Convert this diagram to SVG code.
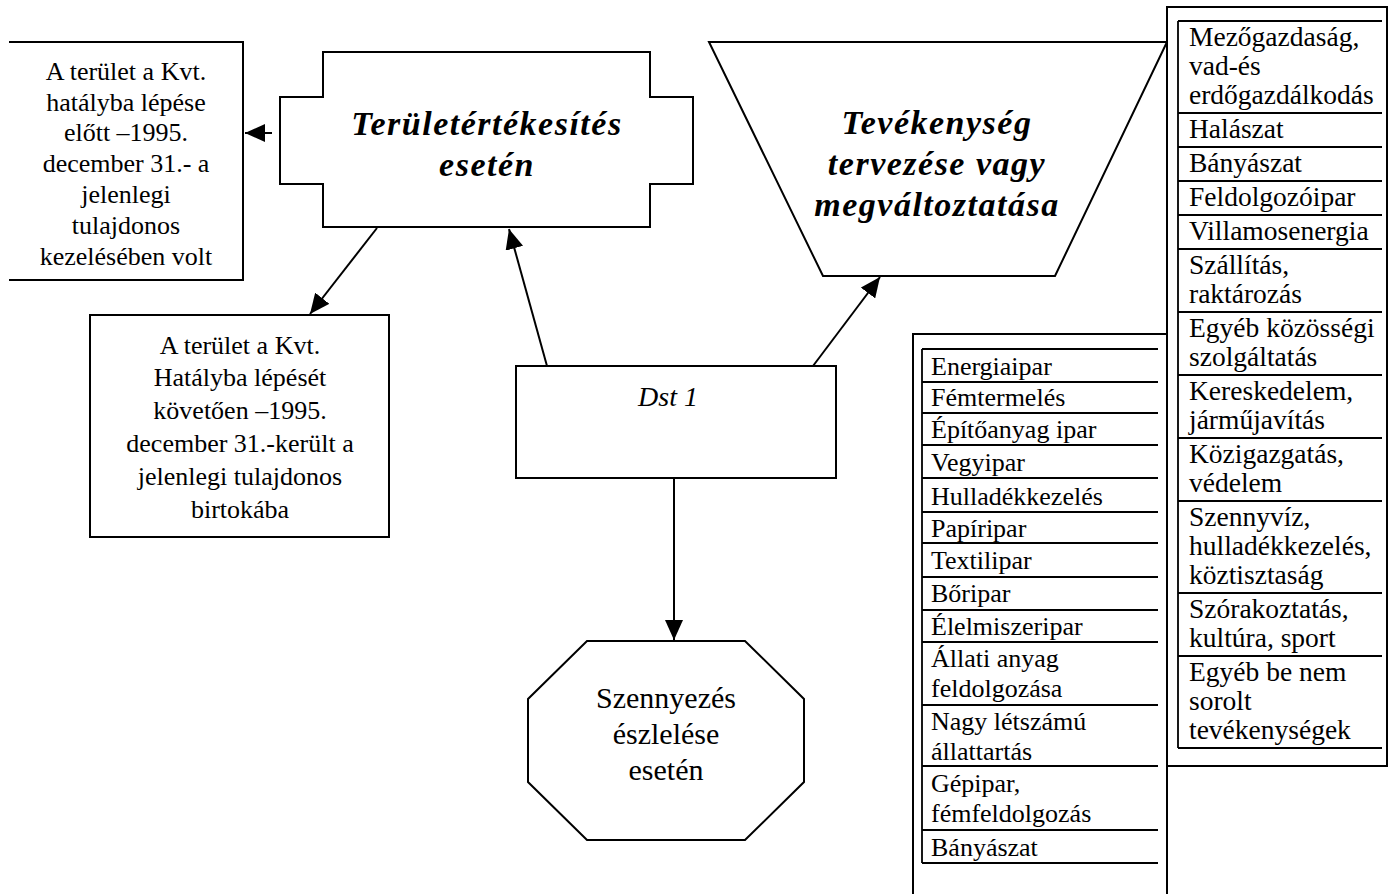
<svg xmlns="http://www.w3.org/2000/svg" width="1389" height="894" viewBox="0 0 1389 894">
<style>
.bx{fill:#fff;stroke:#000;stroke-width:2}
.ln{stroke:#000;stroke-width:1.8;fill:none}
.t{font-family:"Liberation Serif","Times New Roman",serif;font-size:26px;fill:#000}
.c{text-anchor:middle}
.bi{font-weight:bold;font-style:italic;font-size:34px;letter-spacing:1.5px}
.r{font-size:27.5px}
.conn{stroke:#000;stroke-width:2;fill:none;marker-end:url(#ah)}
</style>
<defs>
<marker id="ah" markerUnits="userSpaceOnUse" markerWidth="20" markerHeight="18" refX="20" refY="9" orient="auto">
<path d="M0,0 L20,9 L0,18 z" fill="#000"/>
</marker>
</defs>
<rect width="1389" height="894" fill="#fff"/>

<g id="box-before">
<path class="bx" d="M9,42 H243 V280 H9"/>
<text class="t c" x="126" y="80">A terület a Kvt.</text>
<text class="t c" x="126" y="111">hatályba lépése</text>
<text class="t c" x="126" y="141">előtt –1995.</text>
<text class="t c" x="126" y="172">december 31.- a</text>
<text class="t c" x="126" y="203">jelenlegi</text>
<text class="t c" x="126" y="234">tulajdonos</text>
<text class="t c" x="126" y="265">kezelésében volt</text>
</g>

<g id="box-after">
<rect class="bx" x="90" y="315" width="299" height="222"/>
<text class="t c" x="240" y="354">A terület a Kvt.</text>
<text class="t c" x="240" y="386">Hatályba lépését</text>
<text class="t c" x="240" y="419">követően –1995.</text>
<text class="t c" x="240" y="452">december 31.-került a</text>
<text class="t c" x="240" y="485">jelenlegi tulajdonos</text>
<text class="t c" x="240" y="518">birtokába</text>
</g>

<g id="teruletertekesites">
<polygon class="bx" points="323,52 650,52 650,97 693,97 693,184 650,184 650,227 323,227 323,184 280,184 280,97 323,97"/>
<text class="t c bi" x="487" y="135">Területértékesítés</text>
<text class="t c bi" x="487" y="176">esetén</text>
</g>

<g id="tevekenyseg">
<polygon class="bx" points="709,42 1167,42 1055,276 823,276"/>
<text class="t c bi" x="937" y="134">Tevékenység</text>
<text class="t c bi" x="937" y="175">tervezése vagy</text>
<text class="t c bi" x="937" y="216">megváltoztatása</text>
</g>

<g id="dst1">
<rect class="bx" x="516" y="366" width="320" height="112"/>
<text class="t c" x="668" y="406" style="font-style:italic;font-size:28px">Dst 1</text>
</g>

<g id="szennyezes">
<polygon class="bx" points="587,641 745,641 804,699 804,782 745,840 587,840 528,782 528,699"/>
<text class="t c" x="666" y="708" style="font-size:30px">Szennyezés</text>
<text class="t c" x="666" y="744" style="font-size:30px">észlelése</text>
<text class="t c" x="666" y="780" style="font-size:30px">esetén</text>
</g>

<g id="ipar-lista">
<rect class="bx" x="913" y="334" width="254" height="570"/>
<path class="ln" d="M922,349 V863 M922,349 H1158 M922,382 H1158 M922,413 H1158 M922,445 H1158 M922,478 H1158 M922,512 H1158 M922,543 H1158 M922,577 H1158 M922,610 H1158 M922,642 H1158 M922,705 H1158 M922,766 H1158 M922,830 H1158 M922,863 H1158"/>
<text class="t" x="931" y="375">Energiaipar</text>
<text class="t" x="931" y="406">Fémtermelés</text>
<text class="t" x="931" y="438">Építőanyag ipar</text>
<text class="t" x="931" y="471">Vegyipar</text>
<text class="t" x="931" y="505">Hulladékkezelés</text>
<text class="t" x="931" y="537">Papíripar</text>
<text class="t" x="931" y="569">Textilipar</text>
<text class="t" x="931" y="602">Bőripar</text>
<text class="t" x="931" y="635">Élelmiszeripar</text>
<text class="t" x="931" y="667">Állati anyag</text>
<text class="t" x="931" y="697">feldolgozása</text>
<text class="t" x="931" y="730">Nagy létszámú</text>
<text class="t" x="931" y="760">állattartás</text>
<text class="t" x="931" y="792">Gépipar,</text>
<text class="t" x="931" y="822">fémfeldolgozás</text>
<text class="t" x="931" y="856">Bányászat</text>
</g>

<g id="agazat-lista">
<rect class="bx" x="1167" y="7" width="220" height="759"/>
<path class="ln" d="M1178,21 V748 M1178,21 H1382 M1178,113 H1382 M1178,147 H1382 M1178,181 H1382 M1178,215 H1382 M1178,249 H1382 M1178,312 H1382 M1178,375 H1382 M1178,438 H1382 M1178,501 H1382 M1178,593 H1382 M1178,656 H1382 M1178,748 H1382"/>
<text class="t r" x="1189" y="46">Mezőgazdaság,</text>
<text class="t r" x="1189" y="75">vad-és</text>
<text class="t r" x="1189" y="104">erdőgazdálkodás</text>
<text class="t r" x="1189" y="138">Halászat</text>
<text class="t r" x="1189" y="172">Bányászat</text>
<text class="t r" x="1189" y="206">Feldolgozóipar</text>
<text class="t r" x="1189" y="240">Villamosenergia</text>
<text class="t r" x="1189" y="274">Szállítás,</text>
<text class="t r" x="1189" y="303">raktározás</text>
<text class="t r" x="1189" y="337">Egyéb közösségi</text>
<text class="t r" x="1189" y="366">szolgáltatás</text>
<text class="t r" x="1189" y="400">Kereskedelem,</text>
<text class="t r" x="1189" y="429">járműjavítás</text>
<text class="t r" x="1189" y="463">Közigazgatás,</text>
<text class="t r" x="1189" y="492">védelem</text>
<text class="t r" x="1189" y="526">Szennyvíz,</text>
<text class="t r" x="1189" y="555">hulladékkezelés,</text>
<text class="t r" x="1189" y="584">köztisztaság</text>
<text class="t r" x="1189" y="618">Szórakoztatás,</text>
<text class="t r" x="1189" y="647">kultúra, sport</text>
<text class="t r" x="1189" y="681">Egyéb be nem</text>
<text class="t r" x="1189" y="710">sorolt</text>
<text class="t r" x="1189" y="739">tevékenységek</text>
</g>

<g id="connectors">
<path class="conn" d="M272,133 L245,133"/>
<path class="conn" d="M377,228 L310,314"/>
<path class="conn" d="M547,366 L509,229"/>
<path class="conn" d="M813,366 L880,277"/>
<path class="conn" d="M674,478 L674,640"/>
</g>
</svg>
